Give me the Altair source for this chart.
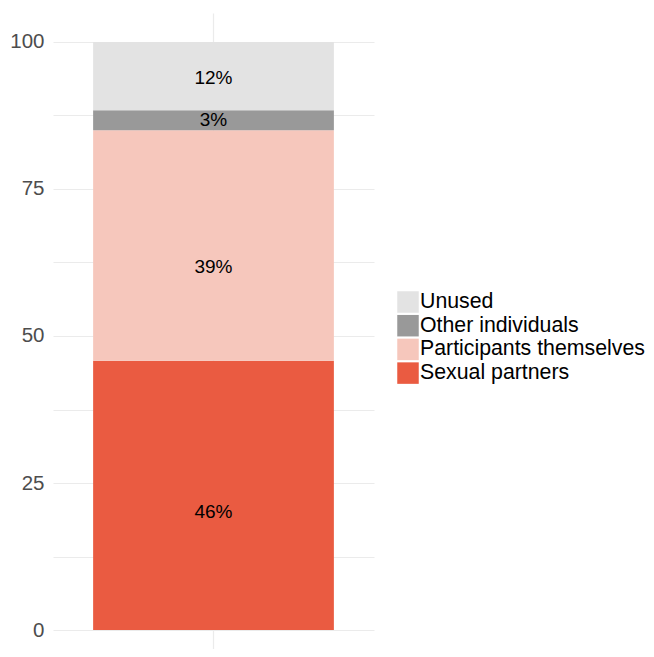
import altair as alt
import pandas as pd

groups = ["Sexual partners", "Participants themselves", "Other individuals", "Unused"]
shares = [45.8, 39.2, 3.4, 11.6]
stack_rank = [1, 2, 3, 4]
label_pos = [20.1, 61.7, 86.8, 93.8]
legend_order = ["Unused", "Other individuals", "Participants themselves", "Sexual partners"]
palette = ["#e3e3e3", "#999999", "#f6c7bc", "#ea5b41"]
y_ticks = [0, 12.5, 25, 37.5, 50, 62.5, 75, 87.5, 100]

df = pd.DataFrame({"cat": ["all"] * len(groups), "group": groups,
                   "share": shares, "rank": stack_rank, "pos": label_pos})

FONT = "Liberation Sans"

base = alt.Chart(df).transform_stack(
    stack="share", groupby=["cat"], as_=["y0", "y1"],
    sort=[alt.SortField("rank", order="ascending")]
).transform_calculate(
    label="format(datum.share, '.0f') + '%'"
)

xenc = alt.X("cat:N",
             scale=alt.Scale(paddingInner=0.1, paddingOuter=0.15),
             axis=alt.Axis(grid=True, labels=False, ticks=False, domain=False,
                           title=None, gridColor="#ebebeb", gridWidth=1.2))

bars = base.mark_bar().encode(
    x=xenc,
    y=alt.Y("y0:Q", scale=alt.Scale(domain=[-3.23, 104.93], nice=False, zero=False),
            axis=alt.Axis(values=y_ticks, grid=True, gridColor="#ebebeb", gridWidth=1.2,
                          ticks=False, domain=False, title=None,
                          labelExpr="datum.value % 25 === 0 ? datum.label : ''",
                          labelFontSize=20.5, labelColor="#4d4d4d", labelFont=FONT,
                          labelPadding=9)),
    y2="y1:Q",
    color=alt.Color("group:N",
                    scale=alt.Scale(domain=legend_order, range=palette),
                    legend=alt.Legend(title=None, orient="none", legendX=344, legendY=278,
                                      symbolType="square", symbolSize=462,
                                      symbolStrokeWidth=0, symbolOpacity=1,
                                      labelFontSize=21.3, labelFont=FONT, labelColor="#000000",
                                      labelOffset=1, rowPadding=1.7, labelLimit=0)),
)

texts = base.mark_text(fontSize=19, font=FONT, color="#000000",
                       align="center", baseline="middle").encode(
    x=alt.X("cat:N"),
    y=alt.Y("pos:Q"),
    text="label:N",
)

chart = alt.layer(bars, texts).properties(
    width=321, height=636,
    autosize=alt.AutoSizeParams(type="none"),
    padding={"left": 45, "top": 5, "right": 272, "bottom": 0},
    background="white",
).configure_view(stroke=None)

chart.save("out.html", embed_options={"renderer": "svg", "actions": False})
